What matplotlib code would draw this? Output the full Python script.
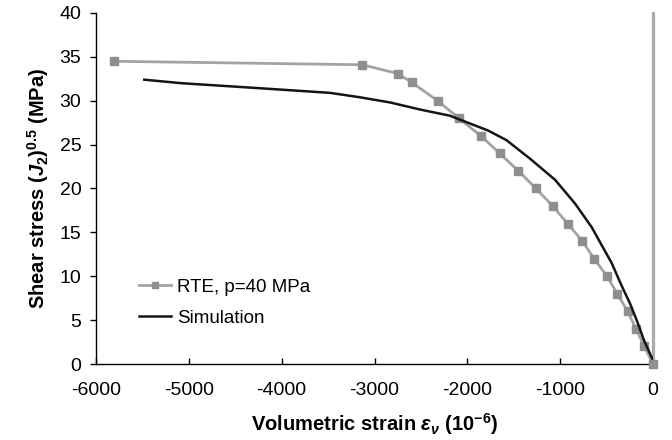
import matplotlib
matplotlib.use("Agg")
import matplotlib.pyplot as plt

plt.rcParams['font.family'] = ['Liberation Sans', 'DejaVu Sans']
plt.rcParams['mathtext.fontset'] = 'custom'
plt.rcParams['mathtext.rm'] = 'Liberation Sans:bold'
plt.rcParams['mathtext.it'] = 'Liberation Sans:italic:bold'
plt.rcParams['mathtext.bf'] = 'Liberation Sans:bold'
plt.rcParams['axes.unicode_minus'] = False

# RTE test data, p = 40 MPa
rte_strain = [-5810, -3130, -2750, -2600, -2320, -2090, -1855, -1650, -1450, -1260,
              -1080, -920, -760, -635, -495, -385, -273, -183, -93, 0]
rte_stress = [34.5, 34.1, 33.1, 32.1, 30.0, 28.0, 26.0, 24.0, 22.0, 20.0,
              18.0, 16.0, 14.0, 12.0, 10.0, 8.0, 6.0, 4.0, 2.0, 0.0]

# simulation curve
sim_strain = [-5480, -5080, -4340, -3480, -3160, -2830, -2510, -2190, -1775, -1577,
              -1325, -1056, -841, -661, -445, -337, -248, -176, -97, -8]
sim_stress = [32.4, 32.0, 31.5, 30.9, 30.4, 29.8, 29.0, 28.3, 26.6, 25.5,
              23.4, 21.0, 18.3, 15.6, 11.5, 8.9, 6.9, 5.0, 2.7, 0.6]

x_ticks = [-6000, -5000, -4000, -3000, -2000, -1000, 0]
y_ticks = [0, 5, 10, 15, 20, 25, 30, 35, 40]

fig = plt.figure(figsize=(6.72, 4.4), dpi=100)
ax = fig.add_axes([96 / 672, 1 - 364 / 440, 557 / 672, 351 / 440])

# gray vertical line at zero strain
ax.plot([0, 0], [0, 40], color='#ababab', lw=2.3, clip_on=False, zorder=2)

ax.plot(rte_strain, rte_stress, color='#a3a3a3', lw=2.0, marker='s', markersize=5.5,
        markerfacecolor='#8f8f8f', markeredgecolor='#8f8f8f', clip_on=False,
        label='RTE, p=40 MPa', zorder=3)
ax.plot(sim_strain, sim_stress, color='#151515', lw=1.8, label='Simulation', zorder=4)

ax.set_xlim(-6000, 0)
ax.set_ylim(0, 40)
ax.set_xticks(x_ticks)
ax.set_yticks(y_ticks)
ax.tick_params(axis='x', direction='in', length=4.5, width=1, labelsize=14, pad=13)
ax.tick_params(axis='y', direction='out', length=4.5, width=1, labelsize=14, pad=6)

ax.spines['top'].set_visible(False)
ax.spines['right'].set_visible(False)
ax.spines['left'].set_linewidth(1.0)
ax.spines['bottom'].set_linewidth(1.0)

ax.set_xlabel(r'Volumetric strain $\varepsilon_{\nu}$ (10$^{-6}$)', fontsize=14.5,
              fontweight='bold', labelpad=9)
ax.set_ylabel(r'Shear stress ($J_{2}$)$^{0.5}$ (MPa)', fontsize=14.5,
              fontweight='bold', labelpad=6)

ax.legend(loc='upper left', bbox_to_anchor=(0.077, 0.243), frameon=False, fontsize=13.5,
          handlelength=1.7, handletextpad=0.35, labelspacing=0.75, borderpad=0,
          borderaxespad=0, markerscale=0.8)

fig.savefig('out.png', dpi=100)
